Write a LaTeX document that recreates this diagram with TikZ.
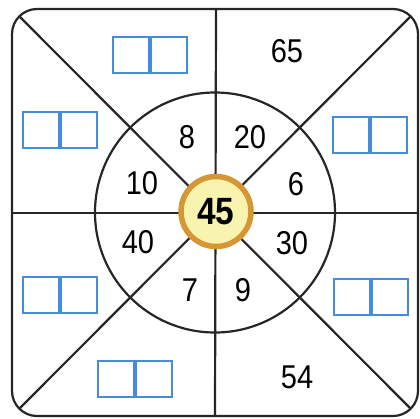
\documentclass[tikz,border=0pt]{standalone}
\usepackage{fontspec}
\setmainfont{Liberation Sans}[FakeStretch=0.88]
\definecolor{boxblue}{RGB}{70,140,220}
\definecolor{ringorange}{RGB}{214,150,52}
\definecolor{centerfill}{RGB}{248,244,175}
\tikzset{
  line/.style={line width=2.2pt, black!85},
  num/.style={font=\fontsize{33}{33}\selectfont, inner sep=0pt},
  halfbox/.style={draw=boxblue, line width=1.8pt, minimum width=36pt, minimum height=36pt, inner sep=0pt},
}
\newcommand{\answerbox}[2]{%
  \node[halfbox, anchor=east] (#1l) at (#2) {};
  \node[halfbox, anchor=west] (#1r) at (#2) {};
}
\begin{document}
\begin{tikzpicture}[x=1pt,y=-1pt]
\useasboundingbox (0,0) rectangle (420,418);
\fill[white] (0,0) rectangle (420,418);
% outer square
\draw[line] (12,9) [rounded corners=25pt] -- (418,9) -- (418,416) -- (12,416) -- cycle;
\coordinate (c) at (215,212.5);
\coordinate (tl) at (19.3,16.3);
\coordinate (tr) at (410.7,16.3);
\coordinate (bl) at (19.3,408.7);
\coordinate (br) at (410.7,408.7);
\coordinate (t) at (216,9);
\coordinate (b) at (215,416);
\coordinate (l) at (12,213);
\coordinate (r) at (418,213);
\draw[line] (tl) -- (br);
\draw[line] (tr) -- (bl);
\draw[line] (t) -- (b);
\draw[line] (l) -- (r);
\draw[line] (c) circle[radius=120];
% center
\node[circle, draw=ringorange, line width=5.5pt, fill=centerfill, minimum size=70pt, inner sep=0pt,
  font=\bfseries\fontsize{38}{38}\selectfont] (center) at (216,211.5) {45};
% inner numbers
\node[num] (n8) at (187,137) {8};
\node[num] (n20) at (250,137) {20};
\node[num] (n10) at (142,183) {10};
\node[num] (n6) at (296,184) {6};
\node[num] (n40) at (138,242) {40};
\node[num] (n30) at (292,243) {30};
\node[num] (n7) at (190,290) {7};
\node[num] (n9) at (243,290) {9};
% outer numbers
\node[num] (n65) at (287,51) {65};
\node[num] (n54) at (297,377) {54};
% answer boxes
\answerbox{bt}{150,55}
\answerbox{bul}{60,130}
\answerbox{bur}{370,135}
\answerbox{bll}{60,295}
\answerbox{blr}{371,297}
\answerbox{bb}{135,379}
\end{tikzpicture}
\end{document}
